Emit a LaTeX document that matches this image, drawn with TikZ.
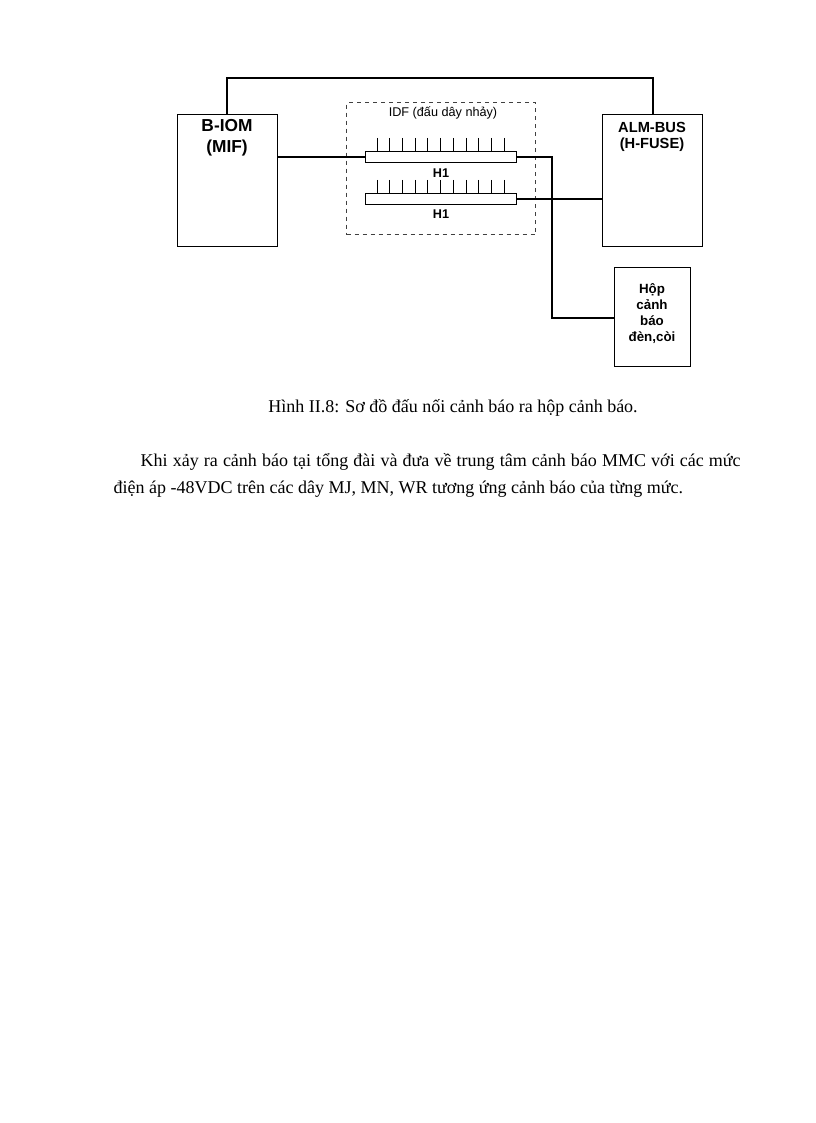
\documentclass[tikz,border=0pt]{standalone}
\usepackage{fontspec}
\setmainfont{Liberation Serif}
\newfontfamily\arial{Liberation Sans}
\begin{document}
\begin{tikzpicture}[x=0.75pt,y=-0.75pt,line width=1pt,
  blk/.style={draw,inner sep=0pt,anchor=north west},
  bar/.style={draw,line width=0.7pt,inner sep=0pt,anchor=north west,minimum width=151*0.75pt,minimum height=11*0.75pt},
  lbl/.style={font=\arial\bfseries,align=center,inner sep=0pt}]
\useasboundingbox (0,0) rectangle (816,1123);
\node[blk,minimum width=100*0.75pt,minimum height=132*0.75pt] (biom) at (177,114) {};
\node[blk,minimum width=100*0.75pt,minimum height=132*0.75pt] (alm) at (602,114) {};
\node[blk,minimum width=76*0.75pt,minimum height=99*0.75pt] (hop) at (614,267) {};
\node[blk,draw=black!75,dashed,line width=0.8pt,minimum width=189*0.75pt,minimum height=132*0.75pt] (idf) at (346,102) {};
\node[bar] (b1) at (365,151) {};
\node[bar] (b2) at (365,193) {};
\foreach \i in {0,...,10}{
  \draw[line width=0.6pt] (377+\i*12.7,138) -- (377+\i*12.7,151);
  \draw[line width=0.6pt] (377+\i*12.7,180) -- (377+\i*12.7,193);}
\node[lbl,font=\arial\bfseries\fontsize{13}{15.5}\selectfont] at (227,138) {B-IOM\\(MIF)};
\node[lbl,font=\arial\bfseries\fontsize{11}{12}\selectfont] at (652,137) {ALM-BUS\\(H-FUSE)};
\node[lbl,font=\arial\bfseries\fontsize{10}{12}\selectfont] at (652,314) {Hộp\\cảnh\\báo\\đèn,còi};
\node[lbl,font=\arial\bfseries\fontsize{9.5}{10}\selectfont] (h1a) at (441,173) {H1};
\node[lbl,font=\arial\bfseries\fontsize{9.5}{10}\selectfont] (h1b) at (441,214) {H1};
\node[inner sep=0pt,font=\arial\fontsize{9.5}{10}\selectfont] (idfl) at (443,113) {IDF (đấu dây nhảy)};
\coordinate (tl) at (227,78);
\coordinate (tr) at (653,78);
\coordinate (v2) at (552,318);
\draw (biom.north-|tl) -- (tl) -- (tr) -- (alm.north-|tr);
\draw (biom.east|-b1.west) -- (b1.west);
\draw (b1.east) -| (v2) -- (hop.west|-v2);
\draw (b2.east) -- (alm.west|-b2.east);
\node[font=\fontsize{13.5}{16}\selectfont,inner sep=0pt] (cap) at (453,408) {Hình II.8: Sơ đồ đấu nối cảnh báo ra hộp cảnh báo.};
\node[anchor=north west,inner sep=0pt,text width=627*0.75pt,align=justify,font=\fontsize{13.5}{20.3}\selectfont] (par) at (113,453)
{\hspace*{27\dimexpr0.75pt\relax}Khi xảy ra cảnh báo tại tổng đài và đưa về trung tâm cảnh báo MMC với các mức\linebreak điện áp -48VDC trên các dây MJ, MN, WR tương ứng cảnh báo của từng mức.};
\end{tikzpicture}
\end{document}
